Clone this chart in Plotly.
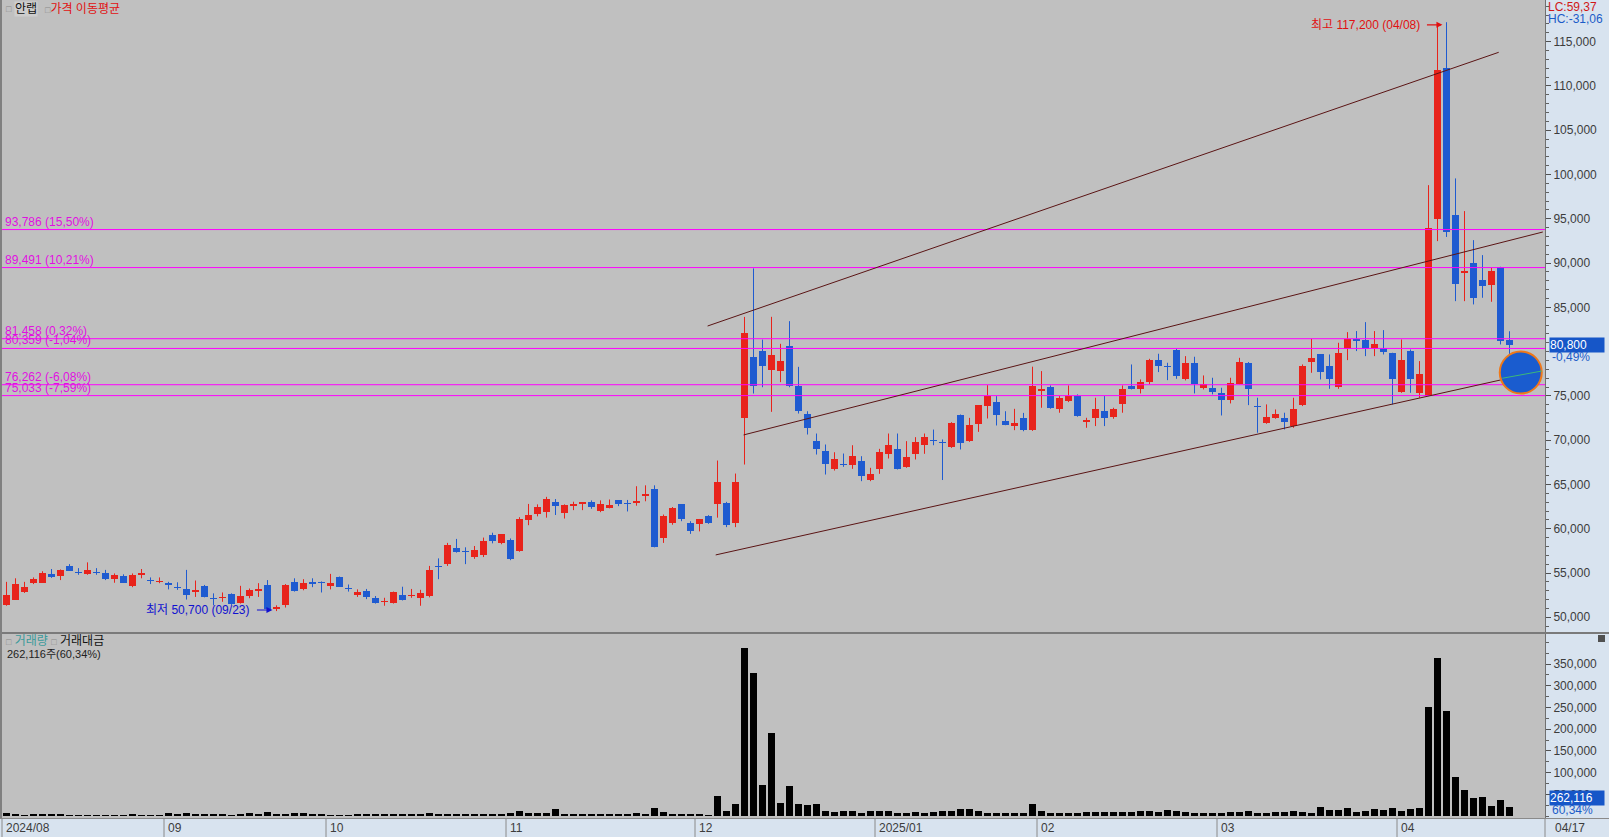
import plotly.graph_objects as go

W, H = 1609, 837
PLOT_R = 1545  # right edge of plotting area (px)

# ---------------- data ----------------
open_ = [51400, 52000, 52800, 53900, 53900, 54900, 54650, 55800, 55100, 54900,
         55000, 54950, 54300, 54650, 53550, 54750, 54200, 54000, 53800, 53400,
         53150, 52900, 53550, 52200, 52150, 52600, 51650, 52400, 53000, 53650,
         50950, 51400, 53950, 53150, 54000, 54000, 53550, 54500, 53200, 52550,
         52950, 52200, 51700, 51650, 52500, 52400, 52150, 52350, 55800, 56000,
         57800, 57450, 56850, 57050, 59300, 58350, 58700, 57500, 60950, 61700,
         61870, 63000, 61800, 62550, 62750, 63050, 62000, 62300, 63200, 62800,
         62850, 63700, 64450, 58950, 60600, 62750, 60650, 60550, 61400, 62800,
         62920, 60650, 72450, 79410, 80120, 77900, 77790, 80690, 76170, 72900,
         69960, 68830, 66690, 67250, 67180, 67700, 65480, 66690, 68490, 69020,
         66990, 68490, 69430, 69950, 69750, 69210, 72820, 69960, 71830, 73840,
         74330, 72220, 71580, 72520, 71100, 75600, 75990, 73470, 74410, 74980,
         72040, 72530, 73280, 72640, 74040, 76110, 75810, 76560, 79000, 78370,
         80170, 76860, 78670, 75840, 75920, 75350, 74530, 76300, 78670, 73800,
         71970, 72530, 72530, 71590, 73920, 78820, 79680, 78370, 76030, 80320,
         81450, 81300, 80430, 80430, 79800, 75430, 80060, 75350, 74980, 94930,
         112050, 95380, 88830, 90030, 88080, 87510, 89580, 81350]
high = [54000, 54400, 54000, 54500, 55200, 55450, 55400, 56000, 55550, 56200,
        55550, 55350, 54950, 54850, 54950, 55450, 54500, 54500, 54000, 53950,
        55350, 54150, 53650, 52700, 52800, 52700, 53550, 53250, 53850, 54200,
        51350, 53750, 54400, 54300, 54400, 54050, 54900, 54600, 53700, 53150,
        53200, 52400, 52200, 52900, 53450, 53200, 53100, 55800, 56650, 58400,
        58850, 57900, 58050, 59000, 59550, 59400, 58900, 61300, 62800, 62750,
        63600, 63350, 62750, 63050, 63000, 63200, 63200, 63300, 63200, 63250,
        64800, 64900, 64900, 61600, 62450, 62750, 60850, 61100, 61530, 67700,
        63030, 66230, 83920, 89400, 81360, 83930, 80880, 83440, 78280, 73270,
        70750, 69510, 68640, 68490, 69430, 68190, 66880, 69020, 70750, 70750,
        69890, 70340, 70750, 71200, 70080, 72030, 72900, 72520, 73950, 76210,
        74970, 73270, 73540, 73080, 78300, 77800, 76180, 74980, 76180, 75170,
        72530, 74790, 74980, 73660, 76180, 78550, 76860, 79190, 79760, 78740,
        80320, 79490, 79420, 77310, 77050, 75920, 77050, 79300, 78820, 74790,
        74040, 73470, 73100, 74790, 78550, 81450, 79680, 79680, 81000, 82200,
        82320, 83330, 82320, 82430, 79870, 81370, 80240, 78930, 98800, 116900,
        117200, 99560, 95870, 92590, 90900, 89470, 89580, 82300]
low = [51300, 51950, 52750, 53750, 53900, 54450, 54200, 55250, 54800, 54800,
       54800, 54200, 53900, 53900, 53400, 54400, 53750, 53850, 53150, 53100,
       52000, 52300, 52250, 51350, 51750, 51400, 51550, 52150, 52300, 50800,
       50700, 51100, 52900, 53050, 53400, 52800, 53150, 53450, 52900, 52300,
       52050, 51550, 51300, 51550, 51900, 52200, 51300, 52250, 54300, 55800,
       57300, 56000, 56600, 56800, 58350, 58250, 56450, 57400, 60400, 61400,
       61250, 61550, 61150, 62100, 62100, 62250, 61870, 62300, 62550, 61950,
       62600, 63100, 57900, 58400, 60450, 60850, 59420, 59700, 60550, 61250,
       60180, 60180, 67250, 75270, 75980, 73200, 76550, 75980, 73010, 70640,
       68380, 66120, 66570, 66990, 66760, 65370, 65370, 66200, 67930, 66690,
       66880, 67820, 68460, 69430, 65500, 69130, 68950, 69810, 70940, 72450,
       71660, 71690, 71130, 71010, 71050, 73660, 73550, 73100, 74300, 72650,
       71400, 71590, 71590, 72420, 73100, 75730, 75280, 76300, 77690, 76780,
       76930, 76750, 75280, 75730, 75170, 72790, 74150, 76300, 73960, 70840,
       71850, 72420, 71210, 71400, 73850, 77610, 76860, 75800, 75800, 79040,
       80060, 79490, 79490, 79680, 74040, 75350, 75350, 74790, 74980, 92480,
       92950, 85700, 85700, 85330, 86080, 85630, 80810, 78700]
close = [52500, 53750, 53450, 54300, 54950, 54500, 55350, 55250, 55050, 55350,
         54950, 54350, 54800, 53900, 54800, 54950, 54100, 54100, 53700, 53350,
         52500, 53100, 52300, 52100, 52300, 51550, 52400, 53100, 53150, 50900,
         51150, 53650, 53000, 53900, 53750, 53850, 53900, 53450, 53150, 52800,
         52250, 51650, 51850, 52800, 51900, 52500, 52700, 55350, 55700, 58150,
         57400, 57400, 57600, 58600, 58600, 59350, 56600, 61150, 61550, 62450,
         63400, 62550, 62650, 62800, 63000, 62450, 62800, 62650, 62750, 62750,
         63100, 63950, 57950, 61400, 62350, 61100, 59700, 61100, 60650, 65300,
         60400, 65250, 82050, 76170, 78350, 79670, 78990, 76170, 73270, 71390,
         68950, 67360, 67890, 67170, 68190, 65930, 66200, 68680, 69510, 66800,
         68120, 69810, 70380, 69890, 69700, 71960, 69700, 71770, 73950, 74970,
         72820, 71690, 71960, 71200, 76100, 75800, 73660, 74790, 74980, 72720,
         72230, 73470, 72530, 73470, 75730, 75730, 76560, 79040, 78370, 78300,
         77240, 78670, 76300, 76300, 75430, 74530, 76410, 78820, 75810, 73740,
         72640, 72910, 72040, 73470, 78370, 79300, 77690, 76860, 79870, 81370,
         81190, 80320, 80810, 79940, 76860, 79000, 76930, 77420, 93980, 111860,
         93530, 87590, 89090, 86080, 87400, 89090, 81200, 80800]

# trading value (거래대금, million KRW) per day
trade_value = [6000, 5000, 2500, 5000, 5000, 5000, 5000, 2000, 2000, 2000,
               2000, 2000, 2000, 2000, 5000, 2000, 2000, 2000,
               6000, 5500, 6000, 4500, 5500, 5500, 4500, 2500, 4500, 8000,
               4500, 9000, 5000, 5500, 7000, 6000, 5000, 4500,
               2500, 2000, 2000, 5500, 5500, 5500, 5500, 4500, 4500, 5000,
               5000, 6500, 5000, 4000, 5500, 4500, 4000, 4500, 4000, 4500,
               8000, 11000, 8000, 6500, 6000, 17000, 4000, 5000, 4000, 4500,
               4000, 4500, 4500, 4000, 6000, 4000, 18000, 9000, 4500, 4000, 4000,
               4000, 2500, 45000, 11000, 28000, 387000, 330000, 72000, 192000, 30000, 70000,
               28000, 26000, 28000, 12000, 10000, 12000, 12000, 6000, 11000, 11000,
               12000, 8000, 8000, 9000, 6000, 10000, 12000, 12000, 15000, 17000,
               12000, 7000, 7000, 7000, 7000, 7000, 28000,
               11000, 8000, 8000, 8000, 8000, 9000, 10000, 9000, 10000, 10000,
               10000, 12000, 11000, 10000, 14000, 12000, 10000, 8000, 8000, 8000,
               8000, 10000, 10000, 12000, 8000, 6000, 10000, 9000, 11000, 9000,
               6000, 20000, 14000, 14000, 18000, 9000, 12000, 16000, 14000, 18000,
               12000, 16000, 18000,
               251000, 365000, 242000, 90000, 60000, 42000, 44000, 22000, 37000, 21000]

month_start_idx = [0, 18, 36, 56, 77, 97, 115, 135, 155]
month_labels = ["2024/08", "09", "10", "11", "12", "2025/01", "02", "03", "04"]

price_ticks = [50000, 55000, 60000, 65000, 70000, 75000, 85000, 90000,
               95000, 100000, 105000, 110000, 115000]
vol_ticks = [50000, 100000, 150000, 200000, 250000, 300000, 350000]

fib_levels = [93786, 89491, 81458, 80359, 76262, 75033]
fib_labels = ["93,786 (15,50%)", "89,491 (10,21%)", "81,458 (0,32%)",
              "80,359 (-1,04%)", "76,262 (-6,08%)", "75,033 (-7,59%)"]

# user-drawn channel lines: (start index, start price, end index, end price)
trend_lines = [(77.9, 82894, 165.8, 113803),
               (81.9, 70592, 170.7, 93509),
               (78.8, 57040, 168.2, 77293)]

max_info = (160, 117200, "최고 117,200 (04/08)")
min_info = (30, 50700, "최저 50,700 (09/23)")

last_price_label = "80,800"
last_change_label = "-0,49%"
last_volume_label = "262,116"
last_volume_pct = "60,34%"
last_date_label = "04/17"

# ---------------- styling ----------------
RED = "#E8231B"
BLUE = "#1F5BD0"
BG = "#C0C0C0"
AXBG = "#D8E3EF"
AXTXT = "#3C3C3C"
FONT = "Liberation Sans, Noto Sans CJK KR, sans-serif"

def px(x):
    return x / W

def py(y):
    return 1 - y / H

n = len(close)
idx = list(range(n))

fig = go.Figure()

# wicks
for col, up in ((RED, True), (BLUE, False)):
    xs, ys = [], []
    for i in idx:
        if (close[i] >= open_[i]) == up:
            xs += [i, i, None]
            ys += [low[i], high[i], None]
    fig.add_trace(go.Scatter(x=xs, y=ys, mode="lines", line=dict(color=col, width=1),
                             hoverinfo="skip", showlegend=False, xaxis="x", yaxis="y"))

# bodies
for col, up in ((RED, True), (BLUE, False)):
    bx, bb, bh = [], [], []
    for i in idx:
        if (close[i] >= open_[i]) == up:
            bx.append(i)
            bb.append(min(open_[i], close[i]))
            bh.append(max(abs(close[i] - open_[i]), 115))
    fig.add_trace(go.Bar(x=bx, y=bh, base=bb, width=0.72, marker=dict(color=col, line=dict(width=0)),
                         hoverinfo="skip", showlegend=False, xaxis="x", yaxis="y"))

# trading value bars
fig.add_trace(go.Bar(x=idx, y=trade_value, width=0.68, marker=dict(color="#000000", line=dict(width=0)),
                     hoverinfo="skip", showlegend=False, xaxis="x2", yaxis="y2"))

XR = [-0.7222, 170.9444]
xdom = [0, PLOT_R / W]

fig.update_layout(
    width=W, height=H, autosize=False,
    margin=dict(l=0, r=0, t=0, b=0, pad=0),
    paper_bgcolor=AXBG, plot_bgcolor=BG,
    barmode="overlay", bargap=0, showlegend=False,
    font=dict(family=FONT, size=12, color=AXTXT),
    xaxis=dict(domain=xdom, range=XR, anchor="y", visible=False, fixedrange=True),
    xaxis2=dict(domain=xdom, range=XR, anchor="y2", visible=False, fixedrange=True),
    yaxis=dict(domain=[1 - 633 / H, 1], range=[48224, 119709], side="right", anchor="x",
               showgrid=False, zeroline=False, showline=True, linecolor="#707070", linewidth=1,
               tickmode="array", tickvals=price_ticks, tickformat=",d",
               ticks="outside", ticklen=5, tickcolor="#505050",
               tickfont=dict(family=FONT, size=12, color=AXTXT),
               minor=dict(tickmode="linear", tick0=0, dtick=1000, ticks="outside",
                          ticklen=3, tickcolor="#606060", showgrid=False),
               fixedrange=True),
    yaxis2=dict(domain=[1 - 818 / H, 1 - 634 / H], range=[-4600, 419300], side="right", anchor="x2",
                showgrid=False, zeroline=False, showline=True, linecolor="#707070", linewidth=1,
                tickmode="array", tickvals=vol_ticks, tickformat=",d",
                ticks="outside", ticklen=5, tickcolor="#505050",
                tickfont=dict(family=FONT, size=12, color=AXTXT),
                minor=dict(tickmode="linear", tick0=0, dtick=25000, ticks="outside",
                           ticklen=3, tickcolor="#606060", showgrid=False),
                fixedrange=True),
)

shapes = []
ann = []

# horizontal fib lines + labels
for lv, lab in zip(fib_levels, fib_labels):
    shapes.append(dict(type="line", xref="x domain", yref="y", x0=0, x1=1, y0=lv, y1=lv,
                       line=dict(color="#FF00FF", width=1), layer="above"))
    ann.append(dict(xref="paper", yref="y", x=px(3), y=lv, xanchor="left", yanchor="bottom",
                    yshift=-1, text=lab, showarrow=False,
                    font=dict(family=FONT, size=12, color="#E010E0")))

# channel lines
for x0, y0, x1, y1 in trend_lines:
    shapes.append(dict(type="line", xref="x", yref="y", x0=x0, y0=y0, x1=x1, y1=y1,
                       line=dict(color="#5A1414", width=1), layer="above"))

# highlight circle
shapes.append(dict(type="circle", xref="x", yref="y", xsizemode="pixel", ysizemode="pixel",
                   xanchor=168.25, yanchor=77643, x0=-21, x1=21, y0=-21, y1=21,
                   fillcolor="#1A5CCF", line=dict(color="#F07818", width=2), layer="above"))
shapes.append(dict(type="line", xref="x", yref="y", x0=166.2, y0=76990, x1=170.6, y1=77810,
                   line=dict(color="#3CB878", width=1), layer="above"))

# panel frame lines
shapes.append(dict(type="line", xref="paper", yref="paper", x0=0, x1=1, y0=py(633), y1=py(633),
                   line=dict(color="#7A7A7A", width=2)))
shapes.append(dict(type="line", xref="paper", yref="paper", x0=0, x1=1, y0=py(818.5), y1=py(818.5),
                   line=dict(color="#8A8A8A", width=1)))
shapes.append(dict(type="line", xref="paper", yref="paper", x0=px(1), x1=px(1), y0=py(0), y1=py(818),
                   line=dict(color="#808080", width=2)))
shapes.append(dict(type="rect", xref="paper", yref="paper", x0=px(1598), x1=px(1605),
                   y0=py(642), y1=py(635), fillcolor="#505050", line=dict(width=0)))

# date strip separators and labels
for si, lab in zip(month_start_idx, month_labels):
    b = si - 0.5
    shapes.append(dict(type="line", xref="x2", yref="paper", x0=b, x1=b, y0=py(819), y1=py(837),
                       line=dict(color="#8A8A8A", width=1)))
    ann.append(dict(xref="x2", yref="paper", x=b, y=py(828), xanchor="left", yanchor="middle",
                    xshift=2, text=lab, showarrow=False, font=dict(family=FONT, size=12, color=AXTXT)))
shapes.append(dict(type="line", xref="paper", yref="paper", x0=px(PLOT_R), x1=px(PLOT_R),
                   y0=py(819), y1=py(837), line=dict(color="#8A8A8A", width=1)))
ann.append(dict(xref="paper", yref="paper", x=px(1553), y=py(828), xanchor="left", yanchor="middle",
                text=last_date_label, showarrow=False, font=dict(family=FONT, size=12, color=AXTXT)))

# headers
SQ = "<span style='color:#8a8a8a;font-size:9px'>□</span>"
ann.append(dict(xref="paper", yref="paper", x=px(4), y=py(9), xanchor="left", yanchor="middle",
                text=SQ, showarrow=False, font=dict(family=FONT, size=12)))
ann.append(dict(xref="paper", yref="paper", x=px(14), y=py(9), xanchor="left", yanchor="middle",
                text="안랩", showarrow=False, bgcolor="#CDCDCD", borderpad=0,
                font=dict(family=FONT, size=12, color="#111111")))
ann.append(dict(xref="paper", yref="paper", x=px(43), y=py(9), xanchor="left", yanchor="middle",
                text=SQ + "<span style='color:#E01010'>가격 이동평균</span>", showarrow=False,
                font=dict(family=FONT, size=12)))
ann.append(dict(xref="paper", yref="paper", x=px(4), y=py(641), xanchor="left", yanchor="middle",
                text=SQ + " <span style='color:#3A9A9A'>거래량</span> " + SQ +
                     " <span style='color:#111111'>거래대금</span>",
                showarrow=False, font=dict(family=FONT, size=12)))
ann.append(dict(xref="paper", yref="paper", x=px(5), y=py(654), xanchor="left", yanchor="middle",
                text=last_volume_label + "주(" + last_volume_pct + ")", showarrow=False,
                font=dict(family=FONT, size=11, color="#222222")))

# max / min markers
mx, mv, mt = max_info
ann.append(dict(xref="x", yref="y", x=mx - 0.45, y=116900, ax=-17, ay=0, text="", showarrow=True,
                arrowhead=2, arrowsize=1, arrowwidth=1.2, arrowcolor="#E01010"))
ann.append(dict(xref="x", yref="y", x=mx - 0.45, y=116900, xanchor="right", yanchor="middle",
                xshift=-20, text=mt, showarrow=False, font=dict(family=FONT, size=12, color="#E01010")))
nx, nv, nt = min_info
ann.append(dict(xref="x", yref="y", x=nx - 0.45, y=50820, ax=-17, ay=0, text="", showarrow=True,
                arrowhead=2, arrowsize=1, arrowwidth=1.2, arrowcolor="#1010D0"))
ann.append(dict(xref="x", yref="y", x=nx - 0.45, y=50820, xanchor="right", yanchor="middle",
                xshift=-21, text=nt, showarrow=False, font=dict(family=FONT, size=12, color="#1010D0")))

# right axis labels
ann.append(dict(xref="paper", yref="paper", x=px(1546), y=py(7), xanchor="left", yanchor="middle",
                text="LC:59,37", showarrow=False, font=dict(family=FONT, size=12, color="#D01818")))
ann.append(dict(xref="paper", yref="paper", x=px(1546), y=py(19), xanchor="left", yanchor="middle",
                text="HC:-31,06", showarrow=False, font=dict(family=FONT, size=12, color="#1C5CC8")))
ann.append(dict(xref="paper", yref="y", x=px(1549), y=close[-1], xanchor="left", yanchor="middle",
                text=last_price_label, showarrow=False, bgcolor="#1656C8", width=54, align="left",
                borderpad=0, font=dict(family=FONT, size=12, color="#FFFFFF")))
ann.append(dict(xref="paper", yref="paper", x=px(1550), y=py(357), xanchor="left", yanchor="middle",
                text=last_change_label, showarrow=False, font=dict(family=FONT, size=12, color="#1C5CC8")))
ann.append(dict(xref="paper", yref="paper", x=px(1549), y=py(798), xanchor="left", yanchor="middle",
                text=last_volume_label, showarrow=False, bgcolor="#1656C8", width=54, align="left",
                borderpad=0, font=dict(family=FONT, size=12, color="#FFFFFF")))
ann.append(dict(xref="paper", yref="paper", x=px(1550), y=py(810), xanchor="left", yanchor="middle",
                text=last_volume_pct, showarrow=False, font=dict(family=FONT, size=12, color="#1C5CC8")))

fig.update_layout(shapes=shapes, annotations=ann)
fig.write_html("out.html", config={"displayModeBar": False, "staticPlot": True},
               post_script="document.body.style.margin='0px';document.body.style.padding='0px';"
                           "document.body.style.overflow='hidden';")
